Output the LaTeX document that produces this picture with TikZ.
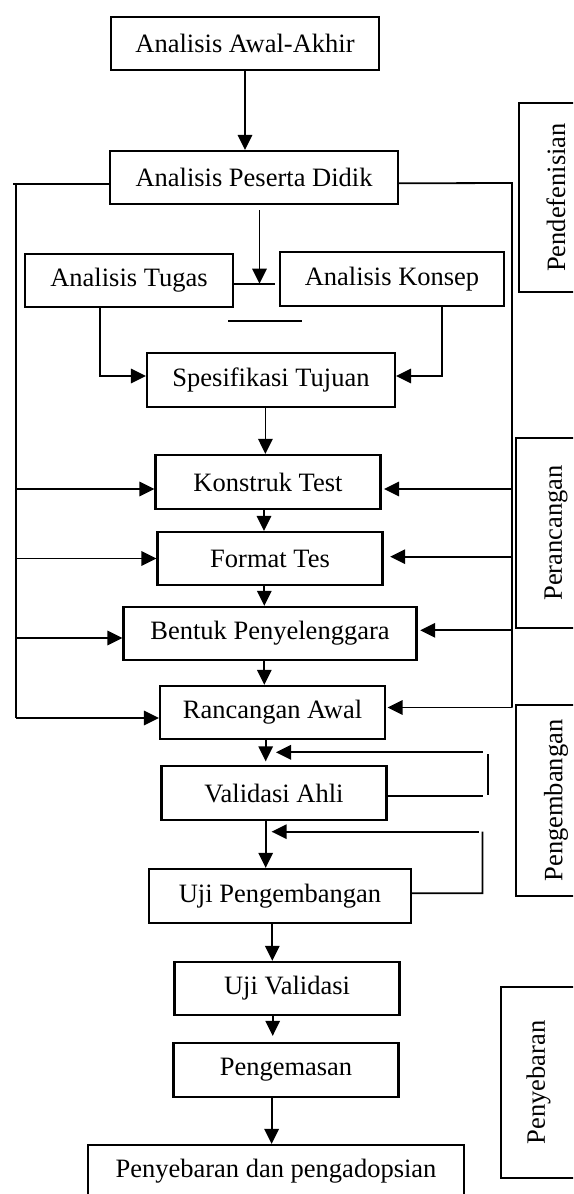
\documentclass[tikz,border=0pt]{standalone}
\usepackage{fontspec}
\setmainfont{Liberation Serif}
\usetikzlibrary{arrows.meta,calc}
\begin{document}
\begin{tikzpicture}[x=0.5pt,y=-0.5pt,
  box/.style={draw,line width=1.1pt,inner sep=0pt,font=\fontsize{13.25}{15}\selectfont},
  lab/.style={box,rotate=90},
  ln/.style={line width=0.9pt},
  arr/.style={ln,-{Triangle[length=7.5pt,width=7.2pt]}}]
\useasboundingbox (0,0) rectangle (573,1194);
\clip (0,0) rectangle (573,1194);
% main boxes
\node[box,minimum width=134pt,minimum height=26.5pt] (AA) at (245,43.5) {Analisis Awal-Akhir};
\node[box,minimum width=144pt,minimum height=26.5pt] (PD) at (254,177.5) {Analisis Peserta Didik};
\node[box,minimum width=104pt,minimum height=26.5pt] (AT) at (129,280.5) {Analisis Tugas};
\node[box,minimum width=112pt,minimum height=27pt] (AK) at (392,279) {Analisis Konsep};
\node[box,minimum width=124pt,minimum height=27pt] (ST) at (271,380) {Spesifikasi Tujuan};
\node[box,minimum width=112.5pt,minimum height=27pt] (KT) at (268,482) {Konstruk Test};
\node[box,minimum width=112.5pt,minimum height=26.5pt] (FT) at (270,558.5) {Format Tes};
\node[box,minimum width=146.5pt,minimum height=26.5pt] (BP) at (270,633.5) {Bentuk Penyelenggara};
\node[box,minimum width=112.5pt,minimum height=26.5pt] (RA) at (272.5,712.5) {Rancangan Awal};
\node[box,minimum width=112.5pt,minimum height=27pt] (VA) at (274,793) {Validasi Ahli};
\node[box,minimum width=131pt,minimum height=27pt] (UP) at (280,896) {Uji Pengembangan};
\node[box,minimum width=112.5pt,minimum height=26.5pt] (UV) at (287,988.5) {Uji Validasi};
\node[box,minimum width=112.5pt,minimum height=27pt] (PG) at (286,1070) {Pengemasan};
\node[box,minimum width=188pt,minimum height=26.5pt] (PP) at (276,1171.5) {Penyebaran dan pengadopsian};
% phase labels
\node[lab,minimum width=94.5pt,minimum height=37pt] (L1) at (556,197.5) {Pendefenisian};
\node[lab,minimum width=95pt,minimum height=40pt] (L2) at (556,533) {Perancangan};
\node[lab,minimum width=95.5pt,minimum height=40pt] (L3) at (556,800.5) {Pengembangan};
\node[lab,minimum width=95.5pt,minimum height=37.5pt] (L4) at (538.5,1082.5) {Penyebaran};
% top arrow
\draw[arr] (AA.south) -- (AA.south |- PD.north);
% left bus
\coordinate (Lt) at (13,184);
\coordinate (Lv) at (16,185);
\coordinate (Lb) at (16,718);
\draw[ln] ($(PD.west)+(0,6.5)$) -- (Lt);
\draw[ln] (Lv) -- (Lb);
\draw[arr] ($(Lv |- KT.west)+(0,7)$) -- ($(KT.west)+(0,7)$);
\draw[arr] (Lv |- FT.west) -- (FT.west);
\draw[arr] ($(Lv |- BP.west)+(0,4.5)$) -- ($(BP.west)+(0,4.5)$);
\draw[arr] ($(Lv |- RA.west)+(0,5.5)$) -- ($(RA.west)+(0,5.5)$);
% right bus
\coordinate (Rt) at (512,183);
\coordinate (Rb) at (512,707.5);
\draw[ln] ($(PD.east)+(0,5.8)$) -- (Rt) -- (Rb);
\draw[arr] ($(Rt |- KT.east)+(0,7)$) -- ($(KT.east)+(2.5,7)$);
\draw[arr] ($(Rt |- FT.east)+(0,-1.8)$) -- ($(FT.east)+(6.5,-1.8)$);
\draw[arr] ($(Rt |- BP.east)+(0,-3.2)$) -- ($(BP.east)+(2.6,-3.2)$);
\draw[arr] (Rb) -- ($(RA.east)+(1.4,-5)$);
% analysis junction
\coordinate (j1) at ($(PD.south)+(5.5,5)$);
\coordinate (j2) at ($(AT.east)+(0,3.2)$);
\coordinate (j3) at ($(j2)+(40.5,0)$);
\draw[arr] (j1) -- (j1 |- j2);
\draw[ln] (j2) -- (j3);
\coordinate (s1) at (228,321);
\coordinate (s2) at (301.5,321);
\draw[ln] (s1) -- (s2);
% into Spesifikasi Tujuan
\draw[arr] ($(AT.south)+(-29,0)$) |- ($(ST.west)+(0,-4)$);
\draw[arr] ($(AK.south)+(50,0)$) |- ($(ST.east)+(0,-4)$);
% main chain
\coordinate (c1) at ($(ST.south)+(-5.6,0)$);
\draw[arr] (c1) -- (c1 |- KT.north);
\coordinate (c2) at ($(KT.south)+(-4,0)$);
\draw[arr] (c2) -- (c2 |- FT.north);
\coordinate (c3) at ($(FT.south)+(-5.7,0)$);
\draw[arr] (c3) -- (c3 |- BP.north);
\coordinate (c4) at ($(BP.south)+(-5.7,0)$);
\draw[arr] (c4) -- (c4 |- RA.north);
\coordinate (c5) at ($(RA.south)+(-6.8,0)$);
\draw[arr] (c5) -- ($(c5 |- VA.north)+(0,-3.5)$);
\coordinate (c6) at ($(VA.south)+(-8.3,-2)$);
\draw[arr] (c6) -- (c6 |- UP.north);
\coordinate (c7) at ($(UP.south)+(-7.7,0)$);
\draw[arr] (c7) -- (c7 |- UV.north);
\coordinate (c8) at ($(UV.south)+(-14.3,0)$);
\draw[arr] (c8) -- ($(c8 |- PG.north)+(0,-6)$);
\coordinate (c9) at ($(PG.south)+(-14.4,0)$);
\draw[arr] (c9) -- (c9 |- PP.north);
% feedback loop 1 (Validasi Ahli)
\coordinate (f1a) at (482.5,752.3);
\coordinate (f1b) at (276,752.3);
\coordinate (f1c) at (488,754);
\coordinate (f1d) at (488,795);
\coordinate (f1e) at (482.5,796);
\draw[arr] (f1a) -- (f1b);
\draw[ln] (f1c) -- (f1d);
\draw[ln] ($(VA.east)+(0,3)$) -- (f1e);
% feedback loop 2 (Uji Pengembangan)
\coordinate (f2a) at (478.8,831.7);
\coordinate (f2b) at (271.6,831.7);
\coordinate (f2c) at (482.5,831.7);
\coordinate (f2d) at (482.5,893.3);
\draw[arr] (f2a) -- (f2b);
\draw[ln] (f2c) -- (f2d) -- ($(UP.east)+(0,-2.7)$);
\end{tikzpicture}
\end{document}
